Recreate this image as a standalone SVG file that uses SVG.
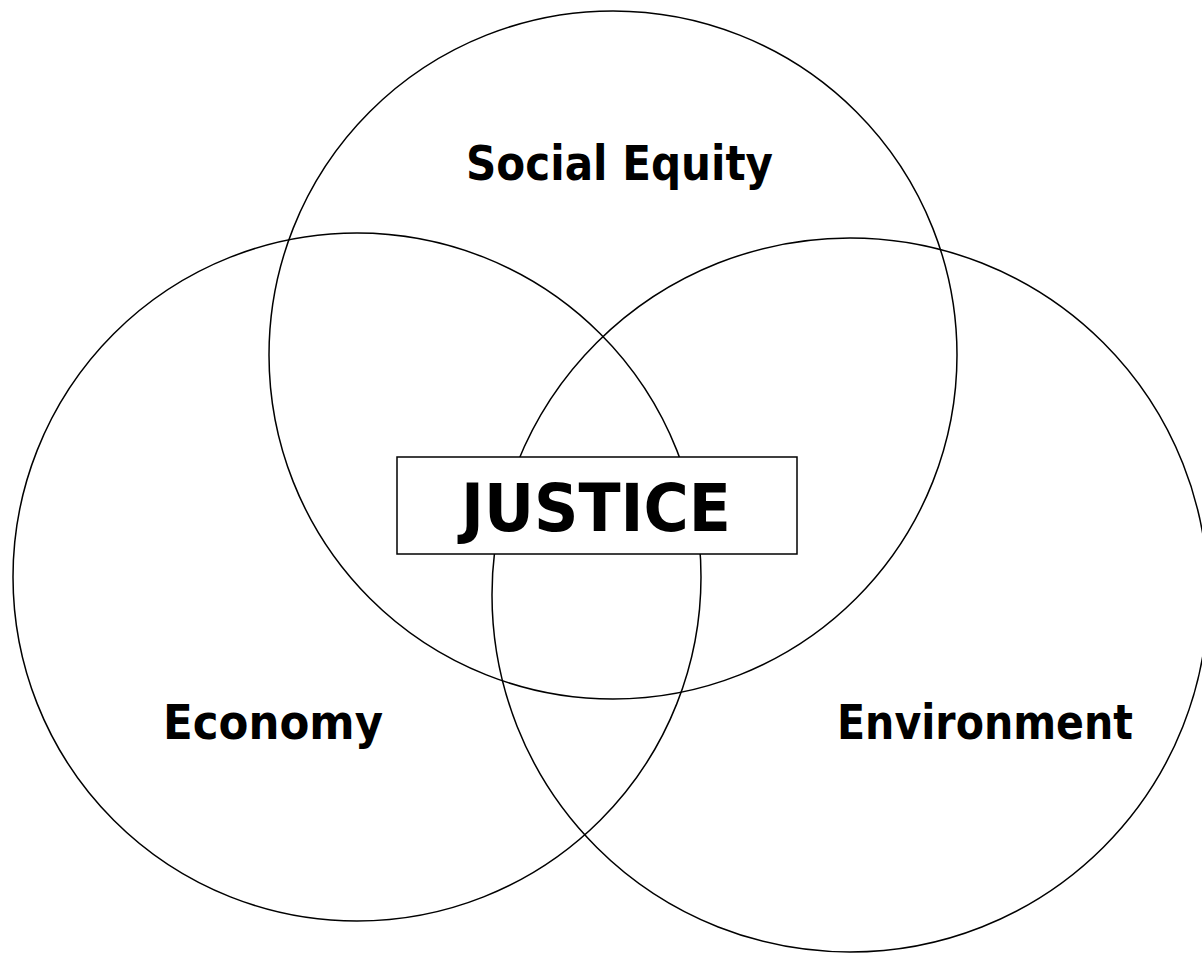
<svg xmlns="http://www.w3.org/2000/svg" width="1202" height="953" viewBox="0 0 1202 953">
<style>
.c{fill:none;stroke:#000;stroke-width:1.5}
.t{font-family:"DejaVu Sans","Verdana",sans-serif;font-weight:bold;fill:#000}
</style>
<rect width="1202" height="953" fill="#fff"/>
<g id="social-equity">
<circle class="c" cx="613" cy="355" r="344"/>
<text class="t" x="466" y="180" font-size="48" textLength="307" lengthAdjust="spacingAndGlyphs">Social Equity</text>
</g>
<g id="economy">
<circle class="c" cx="357" cy="577" r="344"/>
<text class="t" x="163" y="739" font-size="48" textLength="220" lengthAdjust="spacingAndGlyphs">Economy</text>
</g>
<g id="environment">
<ellipse class="c" cx="850" cy="595" rx="358" ry="357"/>
<text class="t" x="837" y="739" font-size="48" textLength="296" lengthAdjust="spacingAndGlyphs">Environment</text>
</g>
<g id="justice">
<rect x="397" y="457" width="400" height="97" fill="#fff" stroke="#000" stroke-width="1.5"/>
<text class="t" x="461" y="531" font-size="66" textLength="270" lengthAdjust="spacingAndGlyphs">JUSTICE</text>
</g>
<g id="connectors"/>
</svg>
